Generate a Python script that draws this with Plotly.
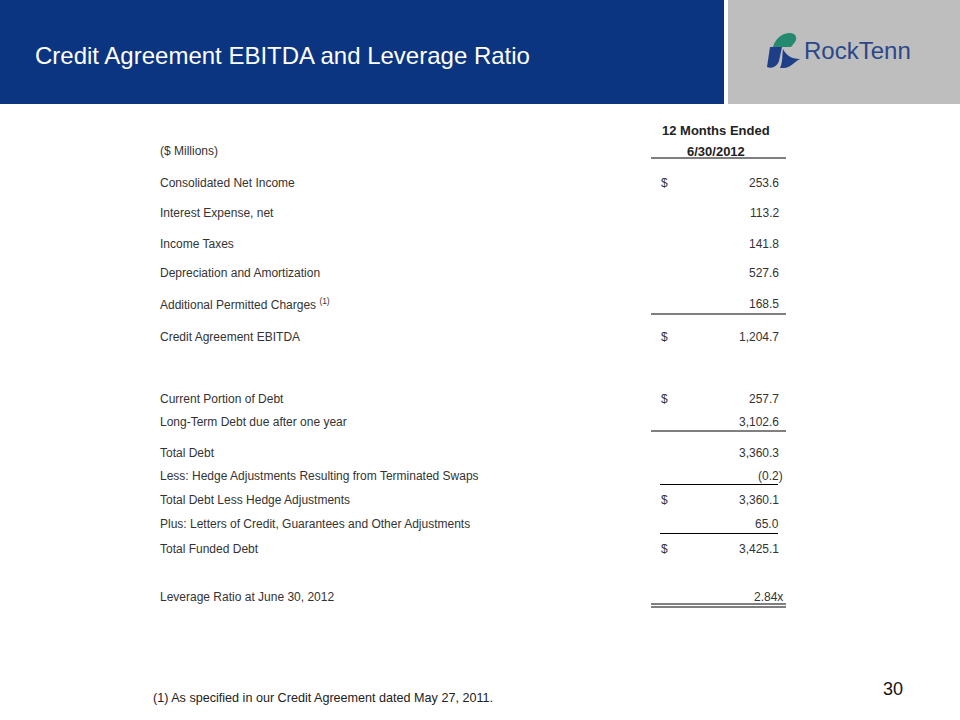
import plotly.graph_objects as go

# ---------------- data ----------------
title_text = "Credit Agreement EBITDA and Leverage Ratio"
units_label = "($ Millions)"
col_header = ["12 Months Ended", "6/30/2012"]

row_labels = [
    "Consolidated Net Income",
    "Interest Expense, net",
    "Income Taxes",
    "Depreciation and Amortization",
    "Additional Permitted Charges <sup>(1)</sup>",
    "Credit Agreement EBITDA",
    "Current Portion of Debt",
    "Long-Term Debt due after one year",
    "Total Debt",
    "Less: Hedge Adjustments Resulting from Terminated Swaps",
    "Total Debt Less Hedge Adjustments",
    "Plus: Letters of Credit, Guarantees and Other Adjustments",
    "Total Funded Debt",
]
row_values = [253.6, 113.2, 141.8, 527.6, 168.5, 1204.7,
              257.7, 3102.6, 3360.3, -0.2, 3360.1, 65.0, 3425.1]
row_dollar = [True, False, False, False, False, True,
              True, False, False, False, True, False, True]

ratio_label = "Leverage Ratio at June 30, 2012"
ratio_value = 2.84

footnote = "(1) As specified in our Credit Agreement dated May 27, 2011."
page_number = "30"
logo_text = "RockTenn"

# ---------------- layout (pixel positions) ----------------
row_y = [183, 213, 244, 273, 304, 337, 399, 422, 453, 476, 500, 524, 549]
ratio_y = 597
LABEL_X = 158
DOLLAR_X = 659
VALUE_X = 781
TXT = "#333333"
FONT = "Liberation Sans, Arial, sans-serif"


def fmt(v):
    s = f"{abs(v):,.1f}"
    return f"({s})" if v < 0 else s


annotations = []


def txt(x, y, text, anchor="left", size=12, color=TXT, family=FONT, bold=False):
    if bold:
        text = f"<b>{text}</b>"
    annotations.append(dict(x=x, y=y, xref="x", yref="y", text=text,
                            showarrow=False, xanchor=anchor, yanchor="middle",
                            font=dict(size=size, color=color, family=family)))


# title
txt(33, 55, title_text, size=24, color="white", family=FONT)
# logo text
txt(802, 50, logo_text, size=24, color="#2A4789", family=FONT)

# headers
txt(716, 130, col_header[0], anchor="center", size=13, color="#222222", bold=True)
txt(716, 151, col_header[1], anchor="center", size=13, color="#222222", bold=True)
txt(LABEL_X, 151, units_label)

for lab, val, dol, y in zip(row_labels, row_values, row_dollar, row_y):
    txt(LABEL_X, y, lab)
    if val < 0:
        txt(VALUE_X + 4, y, fmt(val), anchor="right")
    else:
        txt(VALUE_X, y, fmt(val), anchor="right")
    if dol:
        txt(DOLLAR_X, y, "$")

txt(LABEL_X, ratio_y, ratio_label)
txt(VALUE_X + 4, ratio_y, f"{ratio_value:.2f}x", anchor="right")

txt(151, 698, footnote, size=12.6, color="#222222")
txt(893, 689, page_number, anchor="center", size=18, color="#111111")

shapes = [
    dict(type="rect", x0=0, x1=724, y0=0, y1=104, fillcolor="#0B3580", line_width=0, layer="below"),
    dict(type="rect", x0=728, x1=960, y0=0, y1=104, fillcolor="#BEBEBE", line_width=0, layer="below"),
]


def hline(y, x0, x1, w=1.2):
    shapes.append(dict(type="line", x0=x0, x1=x1, y0=y, y1=y, xref="x", yref="y",
                       line=dict(color="#000000", width=w)))


hline(158, 651, 786)
hline(314, 651, 786)
hline(431, 651, 786)
hline(484.5, 660, 778)
hline(533.5, 660, 778)
hline(604, 651, 786)
hline(607, 651, 786)

# logo icon
shapes += [
    dict(type="path", path="M 773,47 C 775,39 782,33 790,33 C 795,33 798,37 795,42 L 791,47 Z",
         fillcolor="#238A70", line_width=0),
    dict(type="path", path="M 770,47 L 782,47 L 779,61 C 777,67 771,69 767,67 Z",
         fillcolor="#1E3F87", line_width=0),
    dict(type="path", path="M 783,49 C 786,55 791,59 800,59 C 794,62 790,68 784,68 L 780,68 C 783,62 782,55 783,49 Z",
         fillcolor="#1E3F87", line_width=0),
]

fig = go.Figure()
fig.add_trace(go.Scatter(x=[0, 960], y=[0, 720], mode="markers",
                         marker=dict(opacity=0), hoverinfo="skip", showlegend=False))
fig.update_layout(
    width=960, height=720,
    margin=dict(l=0, r=0, t=0, b=0),
    paper_bgcolor="white", plot_bgcolor="white",
    xaxis=dict(range=[0, 960], visible=False, fixedrange=True),
    yaxis=dict(range=[720, 0], visible=False, fixedrange=True),
    shapes=shapes, annotations=annotations, showlegend=False,
)
fig.write_html("out.html", config={"displayModeBar": False},
               post_script="document.body.style.margin='0';document.body.style.padding='0';"
                           "document.body.style.overflow='hidden';")
